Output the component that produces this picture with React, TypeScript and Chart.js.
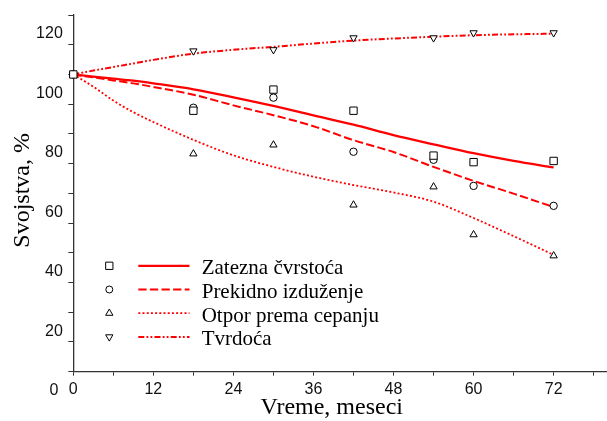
import React, { useEffect, useRef } from 'react';
import { Chart, registerables } from 'chart.js';

Chart.register(...registerables);

// ---- data ----
const months = [0, 18, 30, 42, 54, 60, 72];
const zateznaPts = [100, 87.8, 94.9, 87.8, 72.7, 70.5, 70.9];
const prekidnoPts = [100, 88.8, 92.2, 74.0, 71.3, 62.5, 55.8];
const otporPts = [100, 73.3, 76.3, 56.1, 62.2, 46.1, 39.0];
const tvrdocaPts = [100, 107.9, 108.3, 112.3, 112.3, 114.0, 114.0];

const fitMonths = [0, 3, 6, 9, 12, 18, 24, 30, 36, 42, 48, 54, 60, 66, 72];
const zateznaFit = [100, 99.3, 98.6, 97.9, 97.0, 95.0, 92.3, 89.4, 86.2, 83.1, 79.6, 76.5, 73.5, 70.9, 68.7];
const prekidnoFit = [100, 99.0, 98.0, 97.0, 95.8, 93.2, 89.6, 86.3, 82.6, 77.9, 73.9, 68.9, 64.2, 59.9, 55.4];
const otporFit = [100, 95.9, 91.2, 87.3, 84.0, 78.0, 72.8, 68.9, 65.6, 62.8, 60.3, 57.2, 51.7, 45.6, 39.3];
const tvrdocaFit = [100, 101.3, 102.5, 103.7, 104.9, 107.0, 108.3, 109.3, 110.4, 111.4, 112.1, 112.7, 113.2, 113.5, 113.7];

const seriesNames = ['Zatezna čvrstoća', 'Prekidno izduženje', 'Otpor prema cepanju', 'Tvrdoća'];
const xTitle = 'Vreme, meseci';
const yTitle = 'Svojstva, %';

// ---- styles ----
const RED = '#ff0000';
const AXIS = '#333333';
const SANS = '"Liberation Sans", Arial, sans-serif';
const SERIF = '"Liberation Serif", "Times New Roman", serif';

const markerStyles = [
  { pointStyle: 'rect', radius: 5.2, rotation: 0 },
  { pointStyle: 'circle', radius: 3.7, rotation: 0 },
  { pointStyle: 'triangle', radius: 4.2, rotation: 0 },
  { pointStyle: 'triangle', radius: 4.2, rotation: 180 },
];
const lineStyles = [
  { dash: [] as number[], width: 2.3 },
  { dash: [8.3, 3.3], width: 2 },
  { dash: [2, 2.2], width: 1.8 },
  { dash: [6, 2.2, 1.8, 2.2, 1.8, 2.2], width: 2 },
];

const ptsSeries = [zateznaPts, prekidnoPts, otporPts, tvrdocaPts];
const fitSeries = [zateznaFit, prekidnoFit, otporFit, tvrdocaFit];

function drawLegendMarker(ctx: CanvasRenderingContext2D, i: number, x: number, y: number) {
  ctx.save();
  ctx.setLineDash([]);
  ctx.lineWidth = 1;
  ctx.strokeStyle = '#000';
  ctx.fillStyle = '#fff';
  ctx.beginPath();
  if (i === 0) {
    const h = 3.65;
    ctx.rect(x - h, y - h, 2 * h, 2 * h);
  } else if (i === 1) {
    ctx.arc(x, y, 3.5, 0, Math.PI * 2);
  } else {
    const r = 4.2;
    const s = i === 2 ? 1 : -1;
    ctx.moveTo(x, y - s * r);
    ctx.lineTo(x + r * 0.866, y + s * r * 0.5);
    ctx.lineTo(x - r * 0.866, y + s * r * 0.5);
    ctx.closePath();
  }
  ctx.fill();
  ctx.stroke();
  ctx.restore();
}

const legendPlugin = {
  id: 'innerLegend',
  afterDatasetsDraw(chart: any) {
    const ctx: CanvasRenderingContext2D = chart.ctx;
    ctx.save();
    seriesNames.forEach((name, i) => {
      const y = 265.8 + i * 23.7;
      drawLegendMarker(ctx, i, 109.3, y);
      ctx.beginPath();
      ctx.setLineDash(lineStyles[i].dash);
      ctx.lineWidth = lineStyles[i].width;
      ctx.strokeStyle = RED;
      ctx.moveTo(138.3, y);
      ctx.lineTo(189.5, y);
      ctx.stroke();
      ctx.setLineDash([]);
      ctx.fillStyle = '#000';
      ctx.font = `21px ${SERIF}`;
      ctx.textAlign = 'left';
      ctx.textBaseline = 'alphabetic';
      ctx.fillText(name, 201.7, y + 8.3);
    });
    ctx.restore();
  },
};

export default function App() {
  const ref = useRef<HTMLCanvasElement>(null);

  useEffect(() => {
    if (!ref.current) return;

    const markerDatasets = ptsSeries.map((vals, i) => ({
      label: seriesNames[i] + ' (data)',
      data: months.map((m, k) => ({ x: m, y: vals[k] })),
      showLine: false,
      pointStyle: markerStyles[i].pointStyle,
      pointRadius: markerStyles[i].radius,
      pointRotation: markerStyles[i].rotation,
      pointBorderColor: '#000',
      pointBackgroundColor: '#fff',
      pointBorderWidth: 1,
      borderColor: '#000',
      backgroundColor: '#fff',
      clip: false,
      order: 0,
    }));

    const lineDatasets = fitSeries.map((vals, i) => ({
      label: seriesNames[i],
      data: fitMonths.map((m, k) => ({ x: m, y: vals[k] })),
      showLine: true,
      pointRadius: 0,
      borderColor: RED,
      backgroundColor: RED,
      borderWidth: lineStyles[i].width,
      borderDash: lineStyles[i].dash,
      cubicInterpolationMode: 'monotone',
      fill: false,
      clip: false,
      order: 1,
    }));

    const chart = new Chart(ref.current, {
      type: 'scatter',
      data: { datasets: [...markerDatasets, ...lineDatasets] as any },
      options: {
        animation: false,
        responsive: false,
        devicePixelRatio: 1,
        events: [],
        layout: { autoPadding: false, padding: { top: 15, right: 0, bottom: 0, left: 0 } },
        plugins: {
          legend: { display: false },
          tooltip: { enabled: false },
        },
        scales: {
          x: {
            type: 'linear',
            position: 'bottom',
            min: 0,
            max: 80,
            ticks: {
              stepSize: 6,
              includeBounds: false,
              autoSkip: false,
              maxRotation: 0,
              minRotation: 0,
              padding: 4.5,
              color: '#111',
              font: { family: SANS, size: 16 },
              callback: (v: any) => (Number(v) % 12 === 0 ? String(v) : ''),
            },
            grid: { drawOnChartArea: false, drawTicks: true, tickLength: 4, color: AXIS, lineWidth: 1 },
            border: { display: true, color: AXIS, width: 1.3 },
            title: {
              display: true,
              text: xTitle + '  \u2009',
              color: '#000',
              font: { family: SERIF, size: 24, lineHeight: 1 },
              padding: { top: 0, bottom: 1.1 },
            },
            afterFit: (s: any) => {
              s.height = 49.3;
              s.paddingLeft = 0;
              s.paddingRight = 0;
            },
          },
          y: {
            type: 'linear',
            position: 'left',
            min: 0,
            max: 120,
            ticks: {
              stepSize: 10,
              autoSkip: false,
              padding: 5.5,
              labelOffset: 19,
              color: '#111',
              font: { family: SANS, size: 16 },
              callback: (v: any) => {
                const n = Number(v);
                if (n % 20 !== 0) return '';
                return n === 0 ? '0 ' : String(n);
              },
            },
            grid: { drawOnChartArea: false, drawTicks: true, tickLength: 5, color: AXIS, lineWidth: 1 },
            border: { display: true, color: AXIS, width: 1.3 },
            title: {
              display: true,
              text: ' ' + yTitle,
              color: '#000',
              font: { family: SERIF, size: 24, lineHeight: 1 },
              padding: { top: 11.2, bottom: 0 },
            },
            afterFit: (s: any) => {
              s.width = 73.3;
              s.paddingTop = 0;
              s.paddingBottom = 0;
            },
          },
        },
      } as any,
      plugins: [legendPlugin],
    });

    return () => chart.destroy();
  }, []);

  return (
    <div style={{ position: 'absolute', left: 0, top: 0, width: 607, height: 421, background: '#fff' }}>
      <canvas ref={ref} width={607} height={421} style={{ display: 'block', width: 607, height: 421 }} />
    </div>
  );
}
